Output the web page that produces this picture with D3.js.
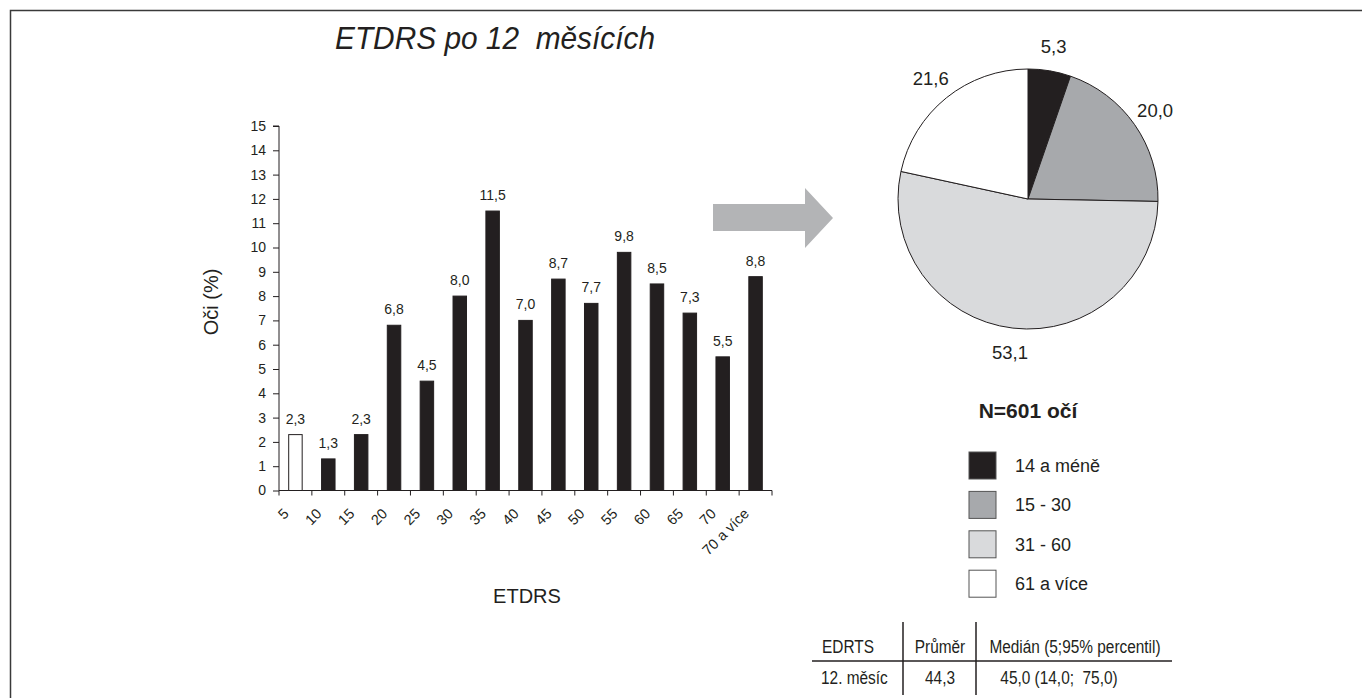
<!DOCTYPE html>
<html>
<head>
<meta charset="utf-8">
<script src="https://cdn.jsdelivr.net/npm/d3@7"></script>
<style>
  body { margin: 0; background: #fff; }
  text { font-family: "Liberation Sans", Arial, sans-serif; fill: #231f20; }
</style>
</head>
<body>
<div class="canva"></div>
<script>
// bar chart data
const categories = ["5", "10", "15", "20", "25", "30", "35", "40", "45", "50", "55", "60", "65", "70", "70 a více"];
const values = [2.3, 1.3, 2.3, 6.8, 4.5, 8.0, 11.5, 7.0, 8.7, 7.7, 9.8, 8.5, 7.3, 5.5, 8.8];
const yTicks = d3.range(0, 16);

// pie data
const pieGroups = ["14 a méně", "15 - 30", "31 - 60", "61 a více"];
const pieValues = [5.3, 20.0, 53.1, 21.6];

// table
const tableHeader = ["EDRTS", "Průměr", "Medián (5;95% percentil)"];
const tableRow = ["12. měsíc", "44,3", "45,0 (14,0;  75,0)"];

const czech = d3.formatLocale({ decimal: ",", thousands: " ", grouping: [3], currency: ["", " Kč"] });
const fmt = czech.format(".1f");

const svg = d3.select(".canva").append("svg")
    .attr("width", 1362)
    .attr("height", 698);

// squeeze a text horizontally to imitate the narrow font of the original
function narrow(sel, k) {
    sel.each(function () {
        const w = this.getComputedTextLength();
        d3.select(this).attr("textLength", w * k).attr("lengthAdjust", "spacingAndGlyphs");
    });
}

// frame (top + left)
svg.append("path")
    .attr("d", "M10.5,698 V10.5 H1362")
    .attr("fill", "none")
    .attr("stroke", "#3a3a3a")
    .attr("stroke-width", 1.5);

svg.append("text")
    .attr("x", 335)
    .attr("y", 49)
    .attr("textLength", 320)
    .attr("lengthAdjust", "spacingAndGlyphs")
    .style("font-size", "32px")
    .style("font-style", "italic")
    .style("white-space", "pre")
    .text("ETDRS po 12  měsících");

// ---- bar chart ----
const x = d3.scaleBand()
    .domain(categories)
    .range([279, 772])
    .paddingInner(0.59)
    .paddingOuter(0.295);

const y = d3.scaleLinear()
    .domain([0, 15])
    .range([490.5, 126]);

const yAxisGroup = svg.append("g")
    .attr("transform", "translate(279, 0)")
    .call(d3.axisLeft(y).tickValues(yTicks).tickSize(6).tickPadding(7));
yAxisGroup.select(".domain").attr("stroke", "#231f20").attr("d", `M-6,${y(15)}H0V${y(0)}`);
yAxisGroup.selectAll(".tick line").attr("stroke", "#231f20");
yAxisGroup.selectAll(".tick text")
    .style("font-family", "'Liberation Sans', Arial, sans-serif")
    .style("font-size", "14px")
    .attr("fill", "#231f20");

// x axis: line with ticks at the category boundaries
const step = x.step();
const xStart = x.range()[0];
const boundaries = d3.range(categories.length + 1).map(i => xStart + i * step);
const xAxisGroup = svg.append("g");
xAxisGroup.append("line")
    .attr("x1", xStart).attr("x2", boundaries[boundaries.length - 1])
    .attr("y1", y(0)).attr("y2", y(0))
    .attr("stroke", "#231f20");
xAxisGroup.selectAll(".xtick")
    .data(boundaries)
    .enter().append("line")
    .attr("x1", d => d).attr("x2", d => d)
    .attr("y1", y(0)).attr("y2", y(0) + 5)
    .attr("stroke", "#231f20");
xAxisGroup.selectAll(".xlabel")
    .data(categories)
    .enter().append("text")
    .attr("text-anchor", "end")
    .attr("transform", d => `translate(${x(d) + 1}, ${y(0) + 24}) rotate(-45)`)
    .style("font-size", "14.5px")
    .text(d => d);

svg.selectAll(".bar")
    .data(values)
    .enter().append("rect")
    .attr("x", (d, i) => x(categories[i]))
    .attr("y", d => y(d))
    .attr("width", x.bandwidth())
    .attr("height", d => y(0) - y(d))
    .attr("fill", (d, i) => i === 0 ? "#fff" : "#231f20")
    .attr("stroke", "#231f20")
    .attr("stroke-width", 1);

svg.selectAll(".barlabel")
    .data(values)
    .enter().append("text")
    .attr("x", (d, i) => x(categories[i]) + x.bandwidth() / 2)
    .attr("y", d => y(d) - 11)
    .attr("text-anchor", "middle")
    .style("font-size", "14px")
    .text(d => fmt(d));

svg.append("text")
    .attr("transform", "translate(218, 302) rotate(-90)")
    .attr("text-anchor", "middle")
    .style("font-size", "20px")
    .text("Oči (%)");

svg.append("text")
    .attr("x", 527)
    .attr("y", 603)
    .attr("text-anchor", "middle")
    .style("font-size", "20px")
    .text("ETDRS");

// arrow
svg.append("path")
    .attr("d", "M713,204 H805 V188 L833,218 L805,248 V231 H713 Z")
    .attr("fill", "#b3b4b6");

// ---- pie ----
const pieColors = ["#231f20", "#a7a9ac", "#d9dadc", "#ffffff"];
const radius = 130;
const pieGroup = svg.append("g")
    .attr("transform", "translate(1028, 199)");

const pie = d3.pie().sort(null);
const arcs = pie(pieValues);
const arc = d3.arc().innerRadius(0).outerRadius(radius);
const labelArc = d3.arc().innerRadius(radius + 25).outerRadius(radius + 25);

pieGroup.selectAll(".slice")
    .data(arcs)
    .enter().append("path")
    .attr("d", arc)
    .attr("fill", (d, i) => pieColors[i])
    .attr("stroke", "#231f20")
    .attr("stroke-width", 1);

pieGroup.selectAll(".pielabel")
    .data(arcs)
    .enter().append("text")
    .attr("transform", d => `translate(${labelArc.centroid(d)})`)
    .attr("text-anchor", "middle")
    .attr("dominant-baseline", "central")
    .style("font-size", "18.5px")
    .text(d => fmt(d.value));

// legend
svg.append("text")
    .attr("x", 1028)
    .attr("y", 418)
    .attr("text-anchor", "middle")
    .style("font-size", "21px")
    .style("font-weight", "bold")
    .text("N=601 očí");

const legend = svg.append("g").attr("transform", "translate(969, 452)");
pieGroups.forEach((g, i) => {
    const row = legend.append("g").attr("transform", `translate(0, ${i * 39.4})`);
    row.append("rect")
        .attr("width", 27)
        .attr("height", 27)
        .attr("fill", pieColors[i])
        .attr("stroke", "#555")
        .attr("stroke-width", 1);
    row.append("text")
        .attr("x", 46)
        .attr("y", 14)
        .attr("dominant-baseline", "central")
        .style("font-size", "18px")
        .text(g);
});

// ---- table ----
const table = svg.append("g");
table.append("line")
    .attr("x1", 812).attr("x2", 1172)
    .attr("y1", 661).attr("y2", 661)
    .attr("stroke", "#231f20").attr("stroke-width", 1.5);
[903, 976].forEach(xx => {
    table.append("line")
        .attr("x1", xx).attr("x2", xx)
        .attr("y1", 622).attr("y2", 695)
        .attr("stroke", "#231f20").attr("stroke-width", 1.5);
});
const headerPos = [{ x: 822, a: "start" }, { x: 940, a: "middle" }, { x: 1075, a: "middle" }];
const rowPos = [{ x: 821, a: "start" }, { x: 940, a: "middle" }, { x: 1059, a: "middle" }];
tableHeader.forEach((t, i) => {
    table.append("text")
        .attr("x", headerPos[i].x).attr("y", 653)
        .attr("text-anchor", headerPos[i].a)
        .style("font-size", "17.5px")
        .style("white-space", "pre")
        .text(t)
        .call(narrow, 0.88);
});
tableRow.forEach((t, i) => {
    table.append("text")
        .attr("x", rowPos[i].x).attr("y", 684)
        .attr("text-anchor", rowPos[i].a)
        .style("font-size", "17.5px")
        .style("white-space", "pre")
        .text(t)
        .call(narrow, 0.88);
});
</script>
</body>
</html>
